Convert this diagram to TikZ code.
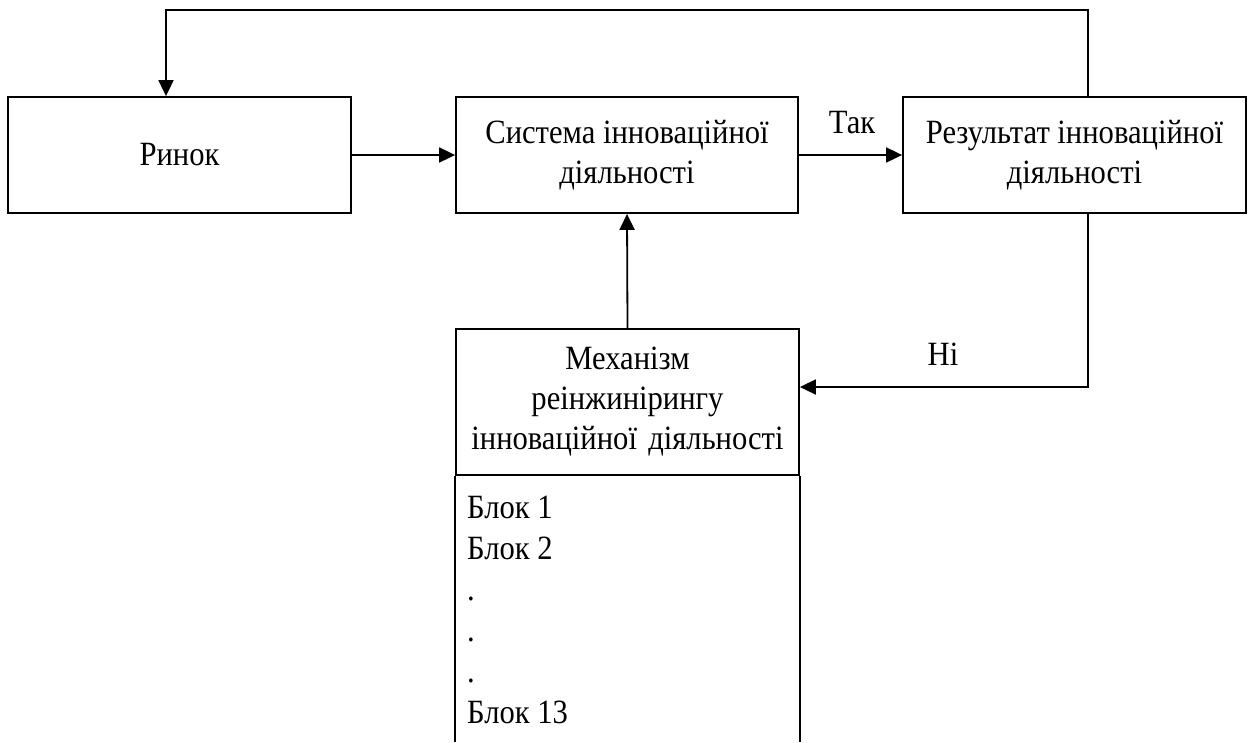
\documentclass[tikz,border=0pt]{standalone}
\usepackage{fontspec}
\setmainfont{Liberation Serif}[FakeStretch=0.9]
\usetikzlibrary{arrows.meta}
\begin{document}
\begin{tikzpicture}[x=1pt,y=-1pt,
  box/.style={draw,line width=1.8pt,inner sep=0pt,align=center,font=\fontsize{34}{40}\selectfont},
  lbl/.style={inner sep=0pt,font=\fontsize{34}{40}\selectfont},
  conn/.style={line width=1.8pt,-{Triangle[length=16pt,width=15pt]}}]
\useasboundingbox (0,0) rectangle (1252,742);
\node[box,minimum width=343pt,minimum height=116pt] (rynok) at (179.5,155) {Ринок};
\node[box,minimum width=342pt,minimum height=116pt] (sys) at (627,155) {Система інноваційної\\діяльності};
\node[box,minimum width=343pt,minimum height=116pt] (res) at (1074.5,155) {Результат інноваційної\\діяльності};
\node[box,minimum width=343pt,minimum height=146pt,text width=335pt] (mech) at (627.5,402) {Механізм\\реінжинірингу\\інноваційної діяльності};
\coordinate (bl) at (mech.south west |- 0,742);
\coordinate (br) at (mech.south east |- 0,742);
\draw[line width=1.8pt] (mech.south west) -- (bl);
\draw[line width=1.8pt] (mech.south east) -- (br);
\node[lbl,anchor=base west,align=left,font=\fontsize{34}{41}\selectfont] (blocks) at (467,723) {Блок 1\\Блок 2\\.\\.\\.\\Блок 13};
\coordinate (tr) at (1088,10);
\coordinate (tl) at (166,10);
\coordinate (nr) at (1088,387);
\draw[conn] (rynok.east) -- (sys.west);
\draw[conn] (sys.east) -- (res.west);
\draw[conn] (mech.north) -- (sys.south);
\draw[conn] (res.north -| tr) -- (tr) -- (tl) -- (rynok.north -| tl);
\draw[conn] (res.south -| nr) -- (nr) -- (nr -| mech.east);
\node[lbl,anchor=base] (tak) at (852,133) {Так};
\node[lbl,anchor=base] (ni) at (943,365) {Ні};
\end{tikzpicture}
\end{document}
